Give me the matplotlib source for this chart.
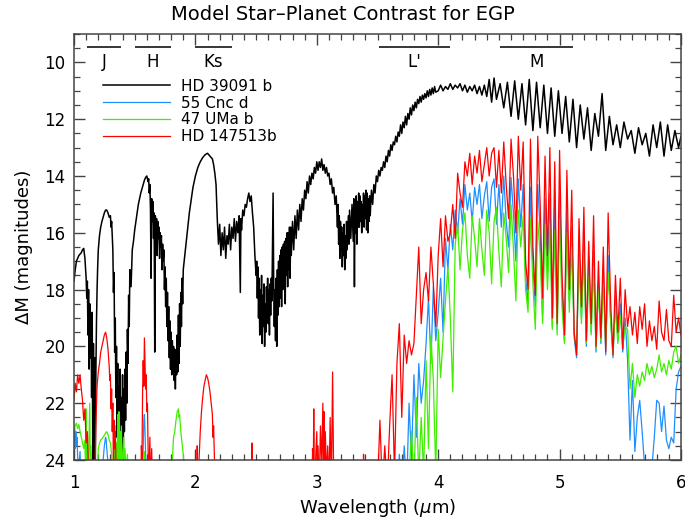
import matplotlib
matplotlib.use('Agg')
import matplotlib.pyplot as plt
from matplotlib.ticker import MultipleLocator

plt.rcParams['font.family'] = ['DejaVu Sans']

# ---------------- data (wavelength um, delta magnitude) ----------------
black_spec = [
 (1.00,17.7),(1.01,17.3),(1.02,17.0),(1.03,16.9),(1.04,16.8),(1.05,16.75),(1.06,16.7),(1.07,16.6),
 (1.08,16.55),(1.09,16.9),(1.10,17.6),(1.105,18.3),(1.11,17.7),(1.115,19.6),(1.12,18.0),(1.125,20.8),
 (1.13,18.5),(1.135,20.4),(1.14,19.0),(1.145,21.8),(1.15,18.8),(1.155,24.5),(1.16,19.9),(1.165,22.7),
 (1.17,20.4),(1.175,24.5),(1.18,21.0),(1.185,19.2),(1.19,18.0),(1.195,17.2),(1.20,16.6),(1.21,16.1),
 (1.22,15.8),(1.23,15.6),(1.24,15.45),(1.25,15.3),(1.26,15.2),(1.27,15.2),(1.28,15.3),(1.29,15.45),
 (1.30,15.4),(1.305,15.8),(1.31,15.6),(1.315,16.1),(1.32,16.6),(1.325,18.1),(1.33,17.4),(1.335,20.2),
 (1.34,19.0),(1.345,21.8),(1.35,20.0),(1.355,23.2),(1.36,20.6),(1.365,24.5),(1.37,21.4),(1.375,23.6),
 (1.38,20.8),(1.385,24.5),(1.39,21.8),(1.395,23.8),(1.40,21.0),(1.405,24.3),(1.41,21.5),(1.415,23.0),
 (1.42,20.8),(1.425,22.6),(1.43,20.2),(1.435,22.0),(1.44,19.4),(1.445,20.6),(1.45,18.2),(1.455,19.3),
 (1.46,17.3),(1.47,17.9),(1.48,16.6),(1.49,16.3),(1.50,15.9),(1.51,15.6),(1.52,15.3),(1.53,15.0),
 (1.54,14.8),(1.55,14.6),(1.56,14.45),(1.57,14.3),(1.58,14.15),(1.59,14.05),(1.60,14.0),(1.61,14.2),
 (1.615,14.1),(1.62,14.6),(1.625,14.3),(1.63,15.2),(1.635,17.6),(1.64,14.8),(1.645,15.6),(1.65,14.9),
 (1.655,16.2),(1.66,15.3),(1.665,20.2),(1.67,15.4),(1.675,16.4),(1.68,15.5),(1.685,16.8),(1.69,15.6),
 (1.695,16.2),(1.70,15.8),(1.705,16.9),(1.71,16.0),(1.715,16.5),(1.72,16.1),(1.725,17.3),(1.73,16.4),
 (1.735,17.0),(1.74,16.6),(1.745,18.0),(1.75,17.2),(1.755,18.6),(1.76,17.6),(1.765,19.3),(1.77,18.1),
 (1.775,19.8),(1.78,18.6),(1.785,20.4),(1.79,19.1),(1.795,20.8),(1.80,19.5),(1.805,21.0),(1.81,19.8),
 (1.815,20.7),(1.82,20.0),(1.825,21.2),(1.83,20.1),(1.835,21.5),(1.84,20.2),(1.845,21.0),(1.85,19.6),
 (1.855,20.9),(1.86,18.9),(1.865,20.6),(1.87,18.5),(1.875,20.0),(1.88,18.1),(1.885,19.3),(1.89,17.6),
 (1.895,18.5),(1.90,17.3),(1.91,16.9),(1.92,16.5),(1.93,16.1),(1.94,15.7),(1.95,15.3),(1.96,15.0),
 (1.97,14.7),(1.98,14.4),(1.99,14.2),(2.00,14.0),(2.02,13.7),(2.04,13.5),(2.06,13.35),(2.08,13.25),
 (2.10,13.2),(2.12,13.3),(2.14,13.4),(2.15,13.6),(2.16,13.9),(2.17,14.3),(2.18,15.5),(2.19,16.4),
 (2.20,15.7),(2.21,16.8),(2.22,16.0),(2.23,16.6),(2.24,15.8),(2.25,16.9),(2.26,16.1),(2.27,16.4),
 (2.28,15.7),(2.29,16.6),(2.30,15.8),(2.31,16.2),(2.32,15.5),(2.33,16.3),(2.34,15.6),(2.35,16.0),
 (2.36,15.4),(2.37,18.1),(2.375,15.5),(2.38,15.9),(2.39,15.2),(2.40,15.4),(2.41,15.0),(2.42,15.1),
 (2.43,14.8),(2.44,14.6),(2.45,14.9),(2.46,14.7),(2.47,15.3),(2.48,15.8),(2.49,16.8),(2.50,17.5),
 (2.505,17.0),(2.51,18.3),(2.515,17.2),(2.52,19.0),(2.525,17.6),(2.53,19.6),(2.535,18.0),(2.54,18.8),
 (2.545,17.5),(2.55,19.9),(2.555,18.2),(2.56,19.3),(2.565,17.8),(2.57,20.0),(2.575,18.5),(2.58,19.5),
 (2.585,17.9),(2.59,18.8),(2.595,17.6),(2.60,19.2),(2.605,18.0),(2.61,19.6),(2.615,17.8),(2.62,18.9),
 (2.625,17.6),(2.63,18.4),(2.635,16.5),(2.64,14.6),(2.645,17.8),(2.65,19.3),(2.655,18.0),(2.66,19.8),
 (2.665,17.6),(2.67,20.0),(2.675,17.3),(2.68,18.9),(2.685,17.0),(2.69,18.6),(2.695,16.8),(2.70,18.3),
 (2.705,16.6),(2.71,18.6),(2.715,16.5),(2.72,18.0),(2.725,16.4),(2.73,17.8),(2.735,16.3),(2.74,18.5),
 (2.745,16.2),(2.75,17.5),(2.755,16.0),(2.76,17.9),(2.765,16.0),(2.77,17.3),(2.775,15.8),(2.78,17.6),
 (2.785,15.8),(2.79,16.8),(2.80,15.6),(2.81,16.6),(2.82,15.4),(2.83,16.2),(2.84,15.2),(2.85,15.9),
 (2.86,15.0),(2.87,15.6),(2.88,14.8),(2.89,15.2),(2.90,14.5),(2.91,14.8),(2.92,14.2),(2.93,14.6),
 (2.94,14.0),(2.95,14.3),(2.96,13.9),(2.97,14.1),(2.98,13.7),(2.99,13.9),(3.00,13.5),(3.01,13.8),
 (3.02,13.5),(3.03,13.7),(3.04,13.4),(3.05,13.8),(3.06,13.6),(3.07,13.9),(3.08,13.7),(3.09,14.0),
 (3.10,13.9),(3.11,14.3),(3.12,14.1),(3.13,14.6),(3.14,14.4),(3.15,15.0),(3.16,14.7),(3.17,15.8),
 (3.175,15.0),(3.18,16.4),(3.185,15.4),(3.19,16.9),(3.195,15.6),(3.20,16.6),(3.205,15.8),(3.21,17.2),
 (3.215,16.0),(3.22,16.8),(3.225,15.7),(3.23,17.3),(3.235,16.1),(3.24,16.9),(3.245,15.6),(3.25,16.6),
 (3.26,15.4),(3.265,16.4),(3.27,15.2),(3.28,16.2),(3.29,15.0),(3.30,16.3),(3.305,14.8),(3.31,17.9),
 (3.315,15.0),(3.32,16.0),(3.325,14.7),(3.33,16.4),(3.335,14.9),(3.34,15.8),(3.345,14.6),(3.35,15.8),
 (3.355,14.7),(3.36,15.6),(3.365,14.9),(3.37,16.0),(3.375,15.0),(3.38,15.6),(3.385,14.6),(3.39,15.8),
 (3.395,14.7),(3.40,15.5),(3.405,14.5),(3.41,15.9),(3.415,14.6),(3.42,16.0),(3.425,14.8),(3.43,15.6),
 (3.435,14.7),(3.44,15.4),(3.45,14.5),(3.46,15.0),(3.47,14.3),(3.48,14.6),(3.49,14.0),(3.50,14.2),
 (3.51,13.8),(3.52,14.0),(3.53,13.7),(3.54,13.8),(3.55,13.5),(3.56,13.7),(3.57,13.3),(3.58,13.5),
 (3.59,13.1),(3.60,13.3),(3.61,12.9),(3.62,13.1),(3.63,12.8),(3.64,12.9),(3.65,12.6),(3.66,12.8),
 (3.67,12.45),(3.68,12.6),(3.69,12.2),(3.70,12.5),(3.71,12.1),(3.72,12.3),(3.73,11.9),(3.74,12.2),
 (3.75,11.8),(3.76,12.0),(3.77,11.6),(3.78,11.85),(3.79,11.5),(3.80,11.7),(3.81,11.4),(3.82,11.6),
 (3.83,11.3),(3.84,11.45),(3.85,11.2),(3.86,11.4),(3.87,11.15),(3.88,11.3),(3.89,11.1),(3.90,11.25),
 (3.91,11.0),(3.92,11.2),(3.93,10.95),(3.94,11.15),(3.95,10.9),(3.96,11.1),(3.97,10.85),(3.98,11.05),
 (4.00,11.0),(4.02,10.8),(4.04,11.0),(4.06,10.85),(4.08,10.95),(4.10,10.75),(4.12,10.95),(4.14,10.8),
 (4.16,10.9),(4.18,10.75),(4.20,11.0),(4.22,10.8),(4.24,11.05),(4.26,10.85),(4.28,11.0),(4.30,10.8),
 (4.32,11.1),(4.34,10.85),(4.36,11.15),(4.38,10.8),(4.40,11.2),(4.42,10.6),(4.44,11.4),(4.46,10.55),
 (4.48,11.3),(4.51,10.75),(4.54,11.6),(4.57,10.7),(4.60,11.9),(4.63,10.65),(4.66,12.0),(4.69,10.75),
 (4.72,12.2),(4.75,10.6),(4.78,12.4),(4.81,10.7),(4.84,12.3),(4.87,10.8),(4.90,12.5),(4.93,10.9),
 (4.96,12.6),(4.99,11.0),(5.02,12.5),(5.05,11.2),(5.08,12.8),(5.11,11.3),(5.14,13.0),(5.17,11.5),
 (5.20,12.7),(5.23,11.6),(5.26,13.1),(5.29,11.8),(5.32,12.6),(5.35,11.1),(5.38,13.1),(5.41,11.9),
 (5.44,12.9),(5.47,12.2),(5.50,13.0),(5.53,12.1),(5.56,12.7),(5.59,12.4),(5.62,13.2),(5.65,12.3),
 (5.68,12.9),(5.71,12.5),(5.74,13.3),(5.77,12.2),(5.80,13.0),(5.83,12.1),(5.86,13.3),(5.89,12.2),
 (5.92,13.1),(5.95,12.4),(5.98,13.0),(6.00,12.6),
]

# near-infrared parts of the three fainter planets
blue_nir = [
 (1.00,23.3),(1.005,22.9),(1.01,23.6),(1.015,23.0),(1.02,23.5),(1.025,23.2),(1.03,23.9),(1.04,24.2),
 (1.05,23.7),(1.055,24.5),(1.06,25),(1.23,25),(1.24,24.0),(1.25,23.5),(1.26,23.2),(1.265,23.3),
 (1.27,23.6),(1.28,24.1),(1.29,25),(1.56,25),(1.57,23.6),(1.575,22.6),(1.58,22.4),(1.585,23.0),
 (1.59,23.8),(1.60,25),(3.48,25),
]
green_nir = [
 (1.00,23.0),(1.01,22.8),(1.02,22.7),(1.03,22.9),(1.04,22.75),(1.05,23.0),(1.06,23.2),(1.07,23.4),
 (1.08,23.6),(1.09,23.3),(1.095,24.5),(1.10,22.2),(1.105,24.6),(1.11,23.5),(1.115,25),(1.13,22.0),
 (1.135,24.8),(1.14,23.5),(1.15,25),(1.19,25),(1.20,23.6),(1.21,23.4),(1.22,23.3),(1.24,23.2),
 (1.26,23.05),(1.27,23.0),(1.28,23.1),(1.29,23.3),(1.30,23.4),(1.31,23.8),(1.32,25),(1.33,23.5),
 (1.335,25),(1.34,22.8),(1.345,24.6),(1.35,23.4),(1.355,25),(1.36,22.4),(1.365,24.0),(1.37,22.3),
 (1.375,24.5),(1.38,23.0),(1.385,25),(1.39,22.8),(1.40,24.5),(1.41,23.2),(1.415,25),(1.42,23.6),
 (1.43,24.4),(1.44,23.8),(1.45,25),(1.57,25),(1.58,23.7),(1.585,25),(1.60,24.0),(1.61,25),
 (1.80,25),(1.81,24.0),(1.82,23.2),(1.83,23.0),(1.84,22.6),(1.85,22.3),(1.86,22.2),(1.865,22.5),
 (1.87,22.4),(1.88,23.0),(1.89,23.4),(1.90,23.8),(1.91,24.5),(1.92,25),(3.48,25),
]
red_nir = [
 (1.00,21.9),(1.01,21.3),(1.02,21.6),(1.03,21.0),(1.04,21.3),(1.05,21.0),(1.06,21.5),(1.07,21.9),
 (1.08,22.6),(1.09,22.2),(1.10,23.4),(1.11,23.0),(1.12,24.5),(1.13,25),(1.17,25),(1.18,22.8),
 (1.19,21.4),(1.20,20.9),(1.21,20.6),(1.22,20.2),(1.23,20.0),(1.24,19.8),(1.25,19.6),(1.26,19.5),
 (1.27,19.7),(1.28,20.1),(1.29,20.7),(1.295,21.2),(1.30,21.0),(1.305,22.2),(1.31,21.5),(1.315,23.0),
 (1.32,22.0),(1.325,24.5),(1.33,22.6),(1.335,23.6),(1.34,23.0),(1.35,25),(1.55,25),(1.555,23.5),
 (1.56,24.0),(1.565,21.6),(1.57,20.5),(1.575,21.4),(1.58,19.7),(1.585,20.6),(1.59,21.5),(1.595,21.0),
 (1.60,22.3),(1.605,22.0),(1.61,23.5),(1.615,25),(1.625,23.2),(1.63,25),(1.64,23.6),(1.645,25),
 (2.01,25),(2.015,23.5),(2.02,25),(2.04,23.0),(2.05,22.3),(2.06,21.8),(2.07,21.4),(2.08,21.2),
 (2.09,21.0),(2.10,21.1),(2.11,21.3),(2.12,21.6),(2.13,22.0),(2.14,22.4),(2.145,23.2),(2.15,22.8),
 (2.16,24.5),(2.17,25),(2.46,25),(2.465,23.4),(2.47,24.0),(2.475,25),(2.96,25),(2.965,23.6),
 (2.97,25),(2.975,22.2),(2.98,25),(2.99,24.0),(3.00,23.0),(3.005,25),(3.01,23.5),(3.02,25),
 (3.03,22.8),(3.04,24.2),(3.05,22.0),(3.055,24.5),(3.06,22.3),(3.065,25),(3.07,23.0),(3.08,24.6),
 (3.09,23.5),(3.10,25),(3.11,22.5),(3.12,25),(3.13,20.9),(3.135,23.0),(3.14,25),(3.38,25),
 (3.385,23.8),(3.39,25),(3.48,25),
]

# mid-infrared part, shared wavelength grid
mir_wl = [
 3.50,3.52,3.54,3.56,3.58,3.60,3.62,3.64,3.66,3.68,3.70,3.72,3.74,3.76,3.78,3.80,3.82,3.84,3.86,3.88,
 3.90,3.92,3.94,3.96,3.98,4.00,4.02,4.04,4.06,4.08,4.10,4.12,4.14,4.16,4.18,4.20,4.22,4.24,4.26,4.28,
 4.30,4.32,4.34,4.36,4.38,4.40,4.42,4.44,4.46,4.48,4.50,4.52,4.54,4.56,4.58,4.60,4.62,4.64,4.66,4.68,
 4.70,4.72,4.74,4.76,4.78,4.80,4.82,4.84,4.86,4.88,4.90,4.92,4.94,4.96,4.98,5.00,5.02,5.04,5.06,5.08,
 5.10,5.12,5.14,5.16,5.18,5.20,5.22,5.24,5.26,5.28,5.30,5.32,5.34,5.36,5.38,5.40,5.42,5.44,5.46,5.48,
 5.50,5.52,5.54,5.56,5.58,5.60,5.62,5.64,5.66,5.68,5.70,5.72,5.74,5.76,5.78,5.80,5.82,5.84,5.86,5.88,
 5.90,5.92,5.94,5.96,5.98,6.00,
]
red_mir = [
 25,22.6,25,23.5,25,22.8,21.0,24.5,20.6,19.2,22.5,19.6,20.6,19.8,20.3,19.9,18.2,16.5,19.2,18.0,
 17.4,18.4,16.5,17.8,19.3,16.8,15.5,17.2,15.4,16.3,16.0,15.0,16.2,13.9,14.6,15.1,13.5,14.0,13.2,14.3,
 13.3,13.9,13.1,14.2,13.6,13.0,14.0,13.2,13.0,14.4,13.1,14.6,12.8,14.3,15.5,12.7,14.0,16.0,12.6,14.5,
 12.8,17.0,18.0,12.7,16.5,18.2,12.6,15.0,18.3,13.3,16.8,13.0,19.0,13.5,19.2,13.1,17.5,19.6,13.8,18.0,
 14.5,19.5,20.3,15.5,18.6,15.1,19.8,16.3,19.2,15.4,20.0,17.0,19.7,16.5,20.2,15.3,18.4,20.3,17.5,19.5,
 17.6,20.1,18.0,19.3,18.6,19.6,18.8,19.9,18.6,19.4,18.5,20.0,19.1,19.8,19.3,20.1,18.4,19.5,19.8,18.7,
 19.8,20.0,18.2,19.5,19.0,19.6,
]
blue_mir = [
 25,25,25,25,25,25,25,24.5,25,23.8,25,23.5,25,22.0,24.0,21.0,23.2,20.6,22.0,21.2,
 19.9,18.3,20.6,17.9,19.8,18.8,17.6,19.5,16.2,17.3,15.7,16.6,15.2,16.0,14.8,15.7,14.3,15.2,14.6,15.6,
 14.4,15.0,14.3,15.5,14.7,14.2,15.6,14.4,14.1,15.7,14.3,15.8,14.0,15.6,16.5,14.05,15.3,17.0,14.1,15.8,
 14.3,17.6,18.5,14.4,17.2,18.6,14.3,16.0,18.9,14.8,17.4,14.6,19.3,14.9,19.4,14.6,18.0,19.8,15.2,18.4,
 15.8,19.7,20.4,16.4,19.0,16.2,20.0,17.0,19.5,16.6,20.2,17.7,19.9,17.3,20.3,16.8,19.0,20.4,18.2,19.8,
 18.5,20.2,19.0,20.5,23.3,21.2,23.7,22.5,21.9,23.0,24.2,24.1,24.0,24.3,23.2,21.9,22.0,23.0,22.1,23.3,
 23.6,23.2,23.4,21.5,20.9,20.7,
]
green_mir = [
 25,25,25,25,25,25,25,25,25,25,25,25,25,24.5,23.0,24.8,21.8,24.6,22.5,24.5,
 20.5,23.6,19.6,21.2,24.5,19.4,21.1,19.7,18.4,17.2,19.0,21.6,16.4,15.7,17.3,15.9,15.3,16.8,17.6,15.4,
 16.2,17.2,15.5,16.6,17.5,15.2,16.0,17.8,15.6,15.1,16.7,17.9,15.3,16.2,17.4,15.0,16.6,18.4,15.2,16.5,
 15.4,18.0,18.8,15.5,17.8,19.4,15.6,16.8,19.2,15.7,18.0,15.8,19.4,15.9,19.6,15.5,18.6,19.9,16.0,18.8,
 16.5,19.6,20.1,16.9,19.2,16.7,19.9,17.5,19.6,17.2,20.1,18.0,19.8,17.8,20.0,17.4,19.1,20.3,18.6,19.9,
 18.9,20.0,19.3,19.4,21.5,20.6,21.8,21.0,21.4,20.9,21.2,20.6,21.0,20.7,21.1,20.8,20.3,20.9,20.6,21.0,
 20.5,20.8,20.2,20.0,20.6,20.3,
]

series_labels = ['HD 39091 b', '55 Cnc d', '47 UMa b', 'HD 147513b']
series_colors = ['black', '#1E8FFF', '#40EE00', '#FF0000']

band_names = ['J', 'H', 'Ks', "L'", 'M']
band_lo = [1.11, 1.50, 2.00, 3.51, 4.51]
band_hi = [1.39, 1.80, 2.30, 4.10, 5.11]
band_bar_y = 9.47
band_text_y = 10.0

# ---------------- figure ----------------
fig = plt.figure(figsize=(6.85, 5.22), dpi=100)
ax = fig.add_axes([74/685, 1 - 460/522, 607/685, 426/522])

bw, bm = zip(*black_spec)
ax.plot(bw, bm, color=series_colors[0], lw=1.1, label=series_labels[0])

for nir, mir, col, lab in [(blue_nir, blue_mir, series_colors[1], series_labels[1]),
                           (green_nir, green_mir, series_colors[2], series_labels[2]),
                           (red_nir, red_mir, series_colors[3], series_labels[3])]:
    w = [p[0] for p in nir] + list(mir_wl)
    m = [p[1] for p in nir] + list(mir)
    ax.plot(w, m, color=col, lw=0.9, label=lab)

ax.hlines([band_bar_y] * len(band_names), band_lo, band_hi, color='black', lw=1.1)
for n, lo, hi in zip(band_names, band_lo, band_hi):
    ax.text((lo + hi) / 2, band_text_y, n, ha='center', va='center', fontsize=12)

ax.set_xlim(1, 6)
ax.set_ylim(24, 9)
ax.xaxis.set_major_locator(MultipleLocator(1))
ax.xaxis.set_minor_locator(MultipleLocator(0.1))
ax.yaxis.set_major_locator(MultipleLocator(2))
ax.yaxis.set_minor_locator(MultipleLocator(0.5))
ax.tick_params(which='both', direction='in', top=True, right=True, color='#444444')
ax.tick_params(which='major', length=8, width=1.0, labelsize=12)
ax.tick_params(which='minor', length=4.5, width=0.9)
ax.tick_params(axis='x', which='major', pad=10)
ax.tick_params(axis='y', which='major', pad=6)
for s in ax.spines.values():
    s.set_color('#444444')
    s.set_linewidth(1.1)

ax.set_xlabel(r'Wavelength ($\mu$m)', fontsize=13, labelpad=4)
ax.set_ylabel('ΔM (magnitudes)', fontsize=13, labelpad=8)
fig.text(0.5, 1 - 14/522, 'Model Star\u2013Planet Contrast for EGP', ha='center', va='center', fontsize=14)

ax.legend(loc='upper left', bbox_to_anchor=(0.048, 0.895), frameon=False, fontsize=11,
          handlelength=4.4, handletextpad=0.7, labelspacing=0.12, borderpad=0, borderaxespad=0)

fig.savefig('out.png', dpi=100)
